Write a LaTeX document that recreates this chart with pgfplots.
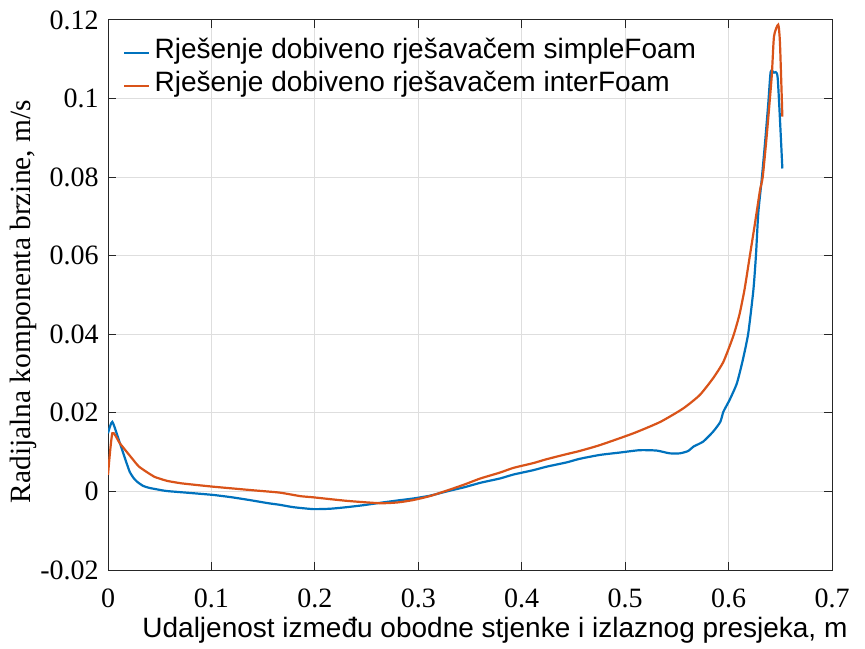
\documentclass[border=0pt]{standalone}
\usepackage{pgfplots}
\pgfplotsset{compat=1.18}
\usepackage{fontspec}
\setmainfont{Liberation Serif}
\newfontfamily\arial{Liberation Sans}

\definecolor{mblue}{rgb}{0,0.447,0.741}
\definecolor{morange}{rgb}{0.85,0.325,0.098}
\definecolor{axgray}{rgb}{0.15,0.15,0.15}

\begin{document}
\begin{tikzpicture}
\begin{axis}[
    scale only axis,
    width=362pt, height=275pt,
    xmin=0, xmax=0.7, ymin=-0.02, ymax=0.12,
    xtick={0,0.1,0.2,0.3,0.4,0.5,0.6,0.7},
    xticklabels={0,0.1,0.2,0.3,0.4,0.5,0.6,0.7},
    ytick={-0.02,0,0.02,0.04,0.06,0.08,0.1,0.12},
    yticklabels={-0.02,0,0.02,0.04,0.06,0.08,0.1,0.12},
    tick label style={font=\fontsize{14}{16}\selectfont, inner sep=0pt},
    xticklabel style={yshift=-9pt},
    yticklabel style={xshift=-4.5pt},
    major tick length=4pt,
    tick style={axgray, line width=0.5pt},
    axis line style={axgray, line width=0.5pt},
    grid=major,
    major grid style={black!13, line width=0.5pt},
    xlabel={Udaljenost između obodne stjenke i izlaznog presjeka, m},
    xlabel style={font=\arial\fontsize{14}{16}\selectfont, at={(axis description cs:0.047,-0.122)}, anchor=base west, inner sep=0pt},
    ylabel={Radijalna komponenta brzine, m/s},
    ylabel style={font=\fontsize{14.7}{16}\selectfont, at={(axis description cs:-0.1077,0.488)}, anchor=base, inner sep=0pt},
    legend style={at={(axis description cs:0.0207,0.971)}, anchor=north west, draw=none, fill=none,
        inner sep=0pt, row sep=0pt, column sep=2pt,
        font=\arial\fontsize{14}{16}\selectfont,
        nodes={inner sep=0pt, text height=11pt, text depth=5.5pt}},
    legend cell align=left,
    legend image code/.code={\draw[#1] (0pt,0pt) -- (12.5pt,0pt);},
]
\addplot[mblue, line width=1.1pt, smooth, tension=0.35] coordinates {
(0,0.0148) (0.0042,0.0177) (0.0116,0.0122) (0.018,0.0072) (0.021,0.0050)
(0.0245,0.0035) (0.028,0.0025) (0.034,0.0014) (0.04,0.0009) (0.05,0.0004)
(0.057,0.0001) (0.08,-0.0004) (0.102,-0.0009)
(0.12,-0.0015) (0.137,-0.0022) (0.155,-0.003) (0.166,-0.0034) (0.179,-0.0040)
(0.1985,-0.0045) (0.215,-0.0044) (0.231,-0.0040) (0.247,-0.0035) (0.263,-0.0029)
(0.28,-0.0023) (0.295,-0.0018) (0.311,-0.0011) (0.3275,0.0) (0.345,0.0011)
(0.36,0.0022) (0.379,0.0033) (0.392,0.0043) (0.411,0.0054) (0.424,0.0063)
(0.4435,0.0074) (0.456,0.0083) (0.4757,0.0093) (0.495,0.0099) (0.514,0.0105)
(0.5305,0.0104) (0.543,0.0097) (0.553,0.0097) (0.561,0.0103) (0.566,0.0114)
(0.5755,0.0127) (0.585,0.0152) (0.592,0.0177) (0.595,0.0203) (0.601,0.0233)
(0.608,0.0275) (0.6137,0.0334) (0.619,0.0402) (0.624,0.0513) (0.6265,0.0602)
(0.6287,0.0708) (0.632,0.0793) (0.6352,0.0886) (0.6384,0.0988) (0.6407,0.1068)
(0.6439,0.1066) (0.6475,0.1052) (0.652,0.0822)
};
\addlegendentry{Rješenje dobiveno rješavačem simpleFoam}
\addplot[morange, line width=1.1pt, smooth, tension=0.35] coordinates {
(0,0.0042) (0.0042,0.0148) (0.0116,0.0122) (0.0245,0.0080) (0.03,0.0063)
(0.0406,0.0044) (0.045,0.0037) (0.057,0.0027) (0.07,0.0021) (0.08,0.0018)
(0.102,0.0012) (0.14,0.0003) (0.166,-0.0003)
(0.186,-0.0012) (0.1985,-0.0015) (0.231,-0.0024) (0.263,-0.0030) (0.28,-0.0028)
(0.295,-0.0022) (0.311,-0.0012) (0.3275,0.0002) (0.345,0.0018) (0.36,0.0033)
(0.379,0.0048) (0.392,0.0060) (0.411,0.0072) (0.424,0.0082) (0.4435,0.0095)
(0.456,0.0103) (0.4757,0.0118) (0.508,0.0148) (0.534,0.0177) (0.556,0.0211)
(0.572,0.0245) (0.585,0.0288) (0.595,0.0330) (0.6045,0.0395)
(0.6105,0.0450) (0.6155,0.0515)
(0.6207,0.0602) (0.6255,0.0682) (0.6304,0.0767) (0.633,0.0800) (0.6368,0.0903)
(0.6417,0.1056) (0.6439,0.1158) (0.648,0.1188) (0.6497,0.1141) (0.652,0.0954)
};
\addlegendentry{Rješenje dobiveno rješavačem interFoam}
\coordinate (sw) at (rel axis cs:0,0);
\coordinate (ne) at (rel axis cs:1,1);
\end{axis}
\pgfresetboundingbox
\path[use as bounding box] ([shift={(-54pt,-39pt)}]sw) rectangle ([shift={(16.5pt,10pt)}]ne);
\end{tikzpicture}
\end{document}
